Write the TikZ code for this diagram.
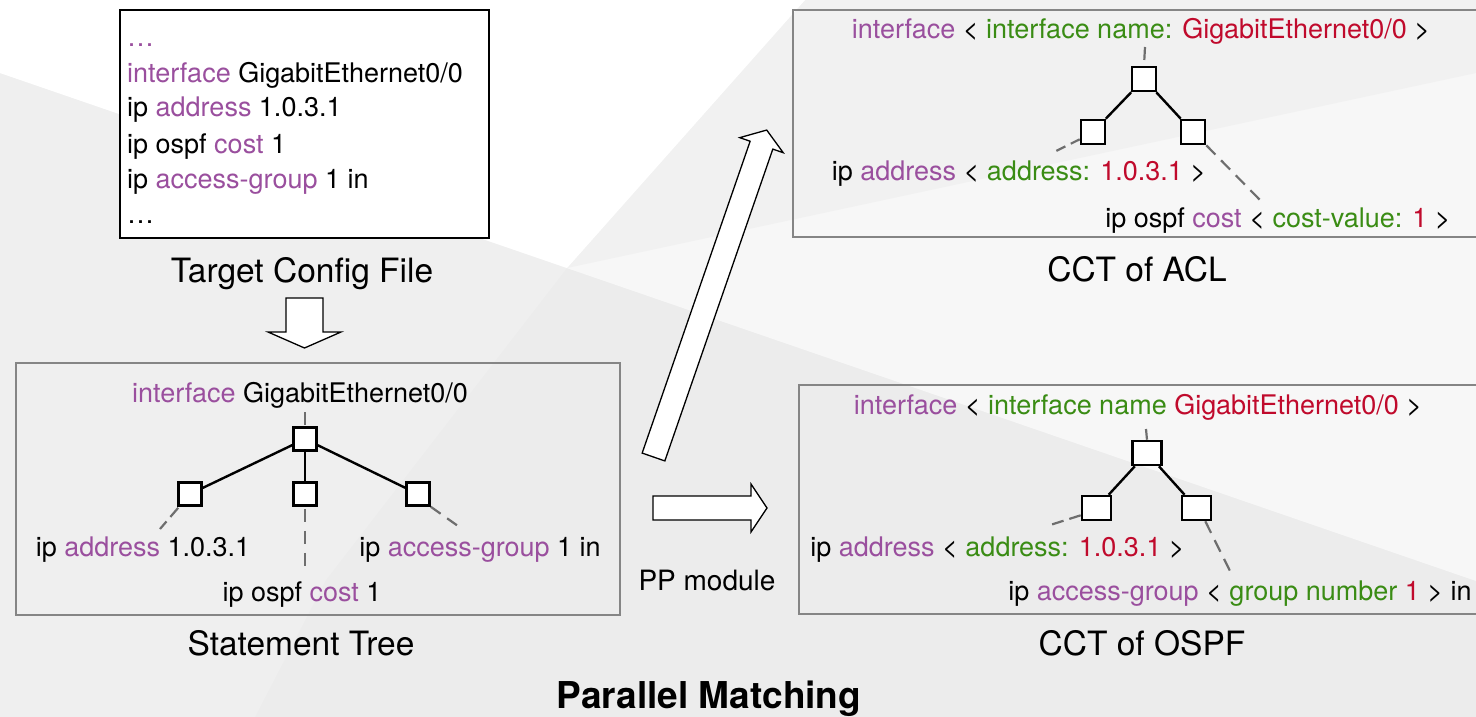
\documentclass[tikz,border=0pt]{standalone}
\usepackage{fontspec}
\setmainfont{TeX Gyre Heros}
\definecolor{kw}{HTML}{9A4F9E}
\definecolor{fld}{HTML}{3A8C14}
\definecolor{val}{HTML}{C00A2C}
\definecolor{frame}{HTML}{858585}
\definecolor{linkgray}{HTML}{6E6E6E}
\definecolor{bgbase}{HTML}{ECECEC}
\definecolor{bgside}{HTML}{EFEFEF}
\definecolor{bgmid}{HTML}{F7F7F7}
\definecolor{bgtop}{HTML}{F1F1F1}
\tikzset{
  txt/.style={inner sep=0pt, anchor=base, font=\fontsize{27}{32}\selectfont},
  captxt/.style={inner sep=0pt, anchor=base, font=\fontsize{33.5}{40}\selectfont},
  leaf/.style={draw=black, fill=white, line width=2.6pt, minimum width=23pt, minimum height=23pt, inner sep=0pt},
  wideleaf/.style={leaf, minimum width=29pt, minimum height=24pt},
  treeedge/.style={line width=2.4pt, draw=black},
  link/.style={line width=2.2pt, draw=linkgray, dash pattern=on 12pt off 7pt},
  panel/.style={draw=frame, line width=2.5pt, inner sep=0pt},
  blockarrow/.style={draw=black, fill=white, line width=1.3pt, line join=miter}
}
\newcommand{\kwc}[1]{\textcolor{kw}{#1}}
\newcommand{\fldc}[1]{\textcolor{fld}{#1}}
\newcommand{\valc}[1]{\textcolor{val}{#1}}
\begin{document}
\begin{tikzpicture}[x=1pt,y=-1pt]
\useasboundingbox (0,0) rectangle (1476,717);

% soft backdrop facets
\fill[bgbase] (0,0) rectangle (1476,717);
\fill[bgside] (0,73) -- (567,268) -- (326,580) -- (255,717) -- (0,717) -- cycle;
\fill[bgmid] (0,0) -- (1476,0) -- (1476,581) -- (0,73) -- cycle;
\fill[bgtop] (805,0) -- (1476,0) -- (1476,73) -- (567,268) -- cycle;
\fill[white] (0,0) -- (805,0) -- (567,268) -- (0,73) -- cycle;

% ---------- target configuration file ----------
\node[draw=black, fill=white, line width=2.5pt, inner sep=0pt,
      minimum width=369pt, minimum height=228pt] (cfg) at (304.5,124) {};
\node[txt, anchor=base west, text=kw] (cfg0) at (127,47) {…};
\node[txt, anchor=base west] (cfg1) at (127,82) {\kwc{interface} GigabitEthernet0/0};
\node[txt, anchor=base west] (cfg2) at (127,117) {ip \kwc{address} 1.0.3.1};
\node[txt, anchor=base west] (cfg3) at (127,153) {ip ospf \kwc{cost} 1};
\node[txt, anchor=base west] (cfg4) at (127,188) {ip \kwc{access-group} 1 in};
\node[txt, anchor=base west] (cfg5) at (127,223) {…};
\node[captxt] (cfgcap) at (302,282) {Target Config File};

% down arrow
\draw[blockarrow] (286,298) -- (323,298) -- (323,332) -- (341,332) -- (304.5,348)
  -- (268,332) -- (286,332) -- cycle;

% ---------- statement tree ----------
\node[panel, minimum width=604pt, minimum height=252pt] (stpanel) at (318,489) {};
\node[txt] (stroottxt) at (300,402) {\kwc{interface} GigabitEthernet0/0};
\node[leaf] (stroot) at (305,439) {};
\node[leaf] (stleft) at (190,494) {};
\node[leaf] (stmid) at (305,494) {};
\node[leaf] (stright) at (418,494) {};
\draw[treeedge] (stroot) -- (stleft);
\draw[treeedge] (stroot) -- (stmid);
\draw[treeedge] (stroot) -- (stright);
\node[txt] (stlefttxt) at (143,556) {ip \kwc{address} 1.0.3.1};
\node[txt] (stmidtxt) at (302,601) {ip ospf \kwc{cost} 1};
\node[txt] (strighttxt) at (480,556) {ip \kwc{access-group} 1 in};
\coordinate (strootend) at (305,412);
\coordinate (stleftend) at (160,529);
\coordinate (stmidend) at (305,566);
\coordinate (strightend) at (458,526);
\draw[link, dash pattern=on 13pt off 6pt] (strootend) -- (stroot.north);
\draw[link, dash pattern=on 12pt off 6pt] (stleft.south west) ++(1,1) -- (stleftend);
\draw[link, dash pattern=on 13pt off 9pt] (stmid.south) ++(0,2) -- (stmidend);
\draw[link, dash pattern=on 12pt off 8pt] (stright.south east) -- (strightend);
\node[captxt] (stcap) at (301,655) {Statement Tree};

% ---------- block arrows between stages ----------
\begin{scope}[shift={(653.5,457)}, rotate=70.9]
  \draw[blockarrow] (0,-12) -- (330,-12) -- (330,-23) -- (346,0) -- (330,23)
    -- (330,12) -- (0,12) -- cycle;
\end{scope}
\draw[blockarrow] (653,496) -- (751,496) -- (751,484) -- (767,508) -- (751,532)
  -- (751,520) -- (653,520) -- cycle;
\node[inner sep=0pt, anchor=base, font=\fontsize{28}{33}\selectfont] (pp) at (707,590) {PP module};
\node[inner sep=0pt, anchor=base, font=\fontsize{37}{44}\selectfont\bfseries] (title) at (709,708) {Parallel Matching};

% ---------- CCT of ACL ----------
\node[panel, minimum width=687pt, minimum height=227pt] (aclpanel) at (1136.5,123.5) {};
\node[txt] (aclroottxt) at (1141,39)
  {\kwc{interface} < \fldc{interface name:} \valc{GigabitEthernet0/0} >};
\node[leaf, minimum width=24pt, minimum height=24pt] (aclroot) at (1144,79) {};
\node[leaf, minimum width=24pt, minimum height=24pt] (aclleft) at (1093,132) {};
\node[leaf, minimum width=24pt, minimum height=24pt] (aclright) at (1193,132) {};
\draw[treeedge] (aclroot) -- (aclleft);
\draw[treeedge] (aclroot) -- (aclright);
\node[txt] (acllefttxt) at (1019,180) {ip \kwc{address} < \fldc{address:} \valc{1.0.3.1} >};
\node[txt] (aclrighttxt) at (1278,227) {ip ospf \kwc{cost} < \fldc{cost-value:} \valc{1} >};
\coordinate (aclrootend) at (1145,47);
\coordinate (aclleftend) at (1052,153);
\coordinate (aclrightend) at (1260,200);
\draw[link, dash pattern=on 13pt off 7pt] (aclrootend) -- (aclroot.north);
\draw[link, dash pattern=on 10pt off 6pt] (aclleft.south west) ++(0,-6) -- (aclleftend);
\draw[link, dash pattern=on 13pt off 8pt] (aclright.south east) -- (aclrightend);
\node[captxt] (aclcap) at (1137,281) {CCT of ACL};

% ---------- CCT of OSPF ----------
\node[panel, minimum width=681pt, minimum height=229pt] (ospfpanel) at (1139.5,499.5) {};
\node[txt] (ospfroottxt) at (1138,414)
  {\kwc{interface} < \fldc{interface name} \valc{GigabitEthernet0/0} >};
\node[wideleaf] (ospfroot) at (1147,453) {};
\node[wideleaf] (ospfleft) at (1096.5,508) {};
\node[wideleaf] (ospfright) at (1196.5,508) {};
\draw[treeedge] (ospfroot) -- (ospfleft);
\draw[treeedge] (ospfroot) -- (ospfright);
\node[txt] (ospflefttxt) at (997.5,556) {ip \kwc{address} < \fldc{address:} \valc{1.0.3.1} >};
\node[txt] (ospfrighttxt) at (1240,600)
  {ip \kwc{access-group} < \fldc{group number} \valc{1} > in};
\coordinate (ospfrootend) at (1146,429);
\coordinate (ospfleftend) at (1047,526);
\coordinate (ospfrightend) at (1231,573);
\draw[link, dash pattern=on 13pt off 4pt] (ospfrootend) -- (ospfroot.north);
\draw[link, dash pattern=on 12pt off 6pt] (ospfleft.south west) ++(0,-6) -- (ospfleftend);
\draw[link, dash pattern=on 13pt off 8pt] (ospfright.south east) ++(-7,0) -- (ospfrightend);
\node[captxt] (ospfcap) at (1142,655) {CCT of OSPF};
\end{tikzpicture}
\end{document}
